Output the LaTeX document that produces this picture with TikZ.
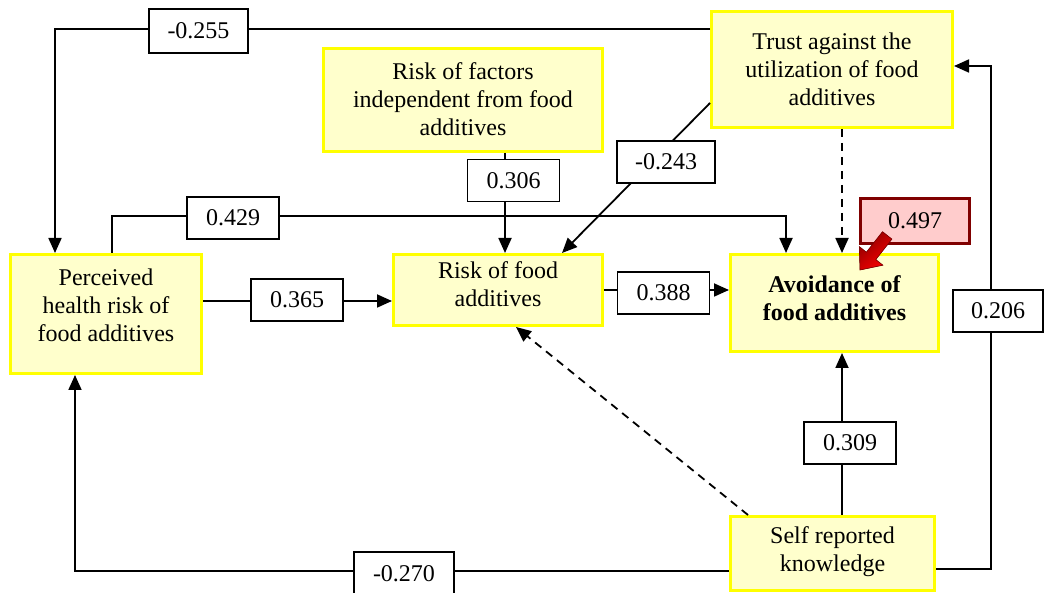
\documentclass[tikz,border=0pt]{standalone}
\usepackage{fontspec}
\setmainfont{Liberation Serif}
\usetikzlibrary{arrows.meta,calc}
\definecolor{boxfill}{HTML}{FFFFCC}
\definecolor{boxedge}{HTML}{FFFF00}
\definecolor{pinkfill}{HTML}{FFCCCC}
\definecolor{darkred}{HTML}{800000}

\begin{document}
\begin{tikzpicture}[x=1pt,y=-1pt,
  ybox/.style={draw=boxedge, fill=boxfill, line width=3pt, inner sep=0pt},
  btext/.style={align=center, inner sep=0pt, font=\fontsize{24}{27.8}\selectfont},
  coef/.style={draw, fill=white, line width=1.5pt, inner sep=0pt,
    minimum width=92pt, minimum height=42pt, font=\fontsize{24}{28}\selectfont},
  link/.style={line width=1.8pt, -{Triangle[length=15pt,width=13pt]}},
  dlink/.style={link, dash pattern=on 8pt off 6pt},
]
\useasboundingbox (0,0) rectangle (1045,593);
\clip (0,0) rectangle (1045,593);

% construct boxes
\node[ybox, minimum width=191pt, minimum height=119pt] (perc)  at (106,314)   {};
\node[ybox, minimum width=279pt, minimum height=103pt] (fact)  at (463,100)   {};
\node[ybox, minimum width=241pt, minimum height=116pt] (trust) at (832,69.5)  {};
\node[ybox, minimum width=209pt, minimum height=71pt]  (risk)  at (498,290)   {};
\node[ybox, minimum width=208pt, minimum height=97pt]  (avoid) at (834.5,303) {};
\node[ybox, minimum width=204pt, minimum height=74pt]  (self)  at (832.5,553.5) {};

% box captions
\node[btext] (percT)  at (106,305)   {Perceived\\health risk of\\food additives};
\node[btext] (factT)  at (463,99)    {Risk of factors\\independent from food\\additives};
\node[btext] (trustT) at (832,69)    {Trust against the\\utilization of food\\additives};
\node[btext] (riskT)  at (498,284)   {Risk of food\\additives};
\node[btext, font=\fontsize{24}{27.8}\selectfont\bfseries] (avoidT) at (834.5,298) {Avoidance of\\food additives};
\node[btext] (selfT)  at (832.5,552) {Self reported\\knowledge};

% bend points of the paths
\coordinate (k1)  at (55,29);
\coordinate (k2)  at (505,0);
\coordinate (k3a) at (112,216);
\coordinate (k3b) at (786,216);
\coordinate (k4s) at (0,103);
\coordinate (k4e) at (562,0);
\coordinate (k5)  at (0,301);
\coordinate (k7)  at (842,0);
\coordinate (k9s) at (748,0);
\coordinate (k9e) at (516,0);
\coordinate (k10) at (75,571);
\coordinate (k11a) at (991,569);
\coordinate (k11b) at (991,66);

% paths
\draw[link] (trust.west |- k1) -- (k1) -- (k1 |- perc.north);
\draw[link] (fact.south -| k2) -- (risk.north -| k2);
\draw[link] (perc.north -| k3a) -- (k3a) -- (k3b) -- (k3b |- avoid.north);
\draw[link] (trust.west |- k4s) -- (risk.north -| k4e);
\draw[link] (perc.east |- k5) -- (risk.west |- k5);
\draw[link] (risk.east) -- (avoid.west |- risk.east);
\draw[dlink] (trust.south -| k7) -- (avoid.north -| k7);
\draw[link] (self.north -| k7) -- (avoid.south -| k7);
\draw[dlink] (self.north -| k9s) -- (risk.south -| k9e);
\draw[link] (self.west |- k10) -- (k10) -- (k10 |- perc.south);
\draw[link] (self.east |- k11a) -- (k11a) -- (k11b) -- (trust.east |- k11b);

% path coefficients
\node[coef, minimum width=99pt, minimum height=44pt] (c255) at (198.5,31) {-0.255};
\node[coef] (c306) at (513.5,180.5) {0.306};
\node[coef] (c429) at (233,218) {0.429};
\node[coef, minimum width=98pt] (c243) at (666,162) {-0.243};
\node[coef] (c365) at (297,300) {0.365};
\node[coef] (c388) at (663.5,293) {0.388};
\node[coef] (c309) at (850,443) {0.309};
\node[coef, minimum width=100pt, minimum height=44pt] (c270) at (404,574) {-0.270};
\node[coef, minimum width=90pt] (c206) at (998,311) {0.206};

% explained variance
\node[coef, draw=darkred, fill=pinkfill, line width=3pt,
      minimum width=109pt, minimum height=45pt] (c497) at (915,221) {0.497};
\fill[draw=darkred, line width=0.6pt, left color=red!55!black, right color=red,
      shading angle=40]
  (860,270) -- (882.9,265.2) -- (875.8,259.6) -- (891.9,239.1)
  -- (882.5,231.7) -- (866.4,252.2) -- (859.3,246.6) -- cycle;
\end{tikzpicture}
\end{document}
